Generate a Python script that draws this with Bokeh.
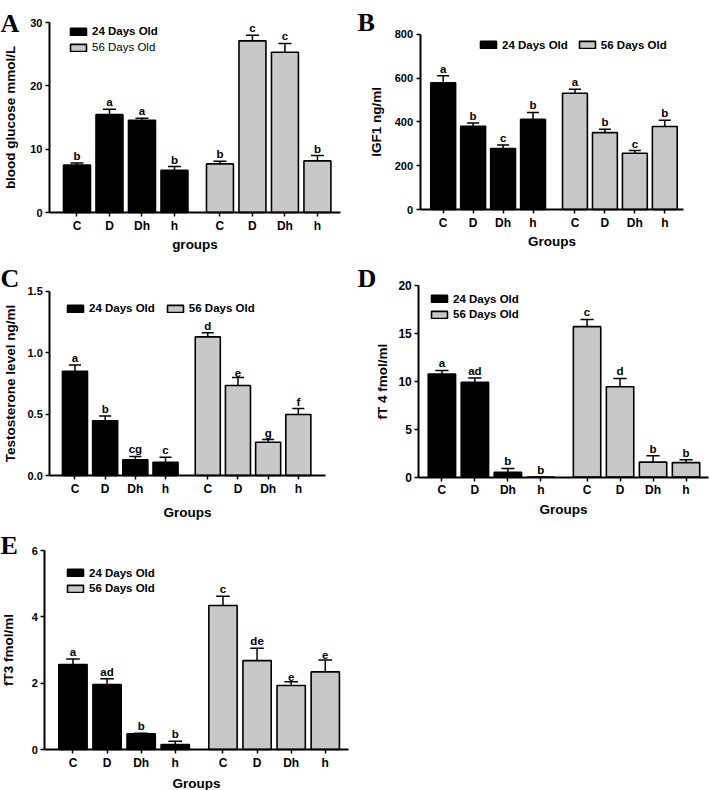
from bokeh.plotting import figure
from bokeh.models import (Range1d, FixedTicker, Legend, LegendItem, Label, PrintfTickFormatter,
                          ColumnDataSource, LinearAxis)
from bokeh.layouts import column, row
from bokeh.embed import file_html
from bokeh.resources import INLINE
from bokeh.core.properties import value

# ---------------- data ----------------
groups = ["C", "D", "Dh", "h"]
series_names = ["24 Days Old", "56 Days Old"]

glucose_24 = [7.5, 15.45, 14.55, 6.67]
glucose_24_err = [0.3, 0.85, 0.35, 0.58]
glucose_24_sig = ["b", "a", "a", "b"]
glucose_56 = [7.67, 27.1, 25.3, 8.15]
glucose_56_err = [0.43, 0.9, 1.4, 0.85]
glucose_56_sig = ["b", "c", "c", "b"]

igf1_24 = [578, 380, 278, 412]
igf1_24_err = [33, 15, 17, 31]
igf1_24_sig = ["a", "b", "c", "b"]
igf1_56 = [531, 351, 257, 379]
igf1_56_err = [18, 16, 12, 29]
igf1_56_sig = ["a", "b", "c", "b"]

testo_24 = [0.849, 0.445, 0.127, 0.108]
testo_24_err = [0.051, 0.04, 0.028, 0.041]
testo_24_sig = ["a", "b", "cg", "c"]
testo_56 = [1.128, 0.732, 0.271, 0.496]
testo_56_err = [0.033, 0.065, 0.022, 0.049]
testo_56_sig = ["d", "e", "g", "f"]

ft4_24 = [10.75, 9.88, 0.49, 0.0]
ft4_24_err = [0.38, 0.45, 0.41, 0.0]
ft4_24_sig = ["a", "ad", "b", "b"]
ft4_56 = [15.70, 9.43, 1.55, 1.50]
ft4_56_err = [0.76, 0.86, 0.68, 0.30]
ft4_56_sig = ["c", "d", "b", "b"]

ft3_24 = [2.56, 1.96, 0.47, 0.15]
ft3_24_err = [0.17, 0.17, 0.02, 0.10]
ft3_24_sig = ["a", "ad", "b", "b"]
ft3_56 = [4.34, 2.68, 1.93, 2.34]
ft3_56_err = [0.28, 0.37, 0.11, 0.36]
ft3_56_sig = ["c", "de", "e", "e"]

# ---------------- styling / layout ----------------
FONT = "Liberation Sans"
SERIF = "Liberation Serif"
GREY = "#c8c8c8"
SLOT = 5
GAP = 7
BAR_W = 4.15
CAP = 1.0


def xpos(g):
    base = SLOT if g == 0 else SLOT * 4 + GAP
    return [base + i * SLOT for i in range(len(groups))]


def make_panel(cfg, d24, e24, s24, d56, e56, s56):
    ox, oy, W, H = cfg["box"]
    L, R, T, Bt = cfg["frame"]
    x0, x1 = cfg["xr"]
    ymax = cfg["ymax"]
    fx = lambda x: x - ox
    fy = lambda y: y - oy
    Lp, Rp, Tp, Bp = fx(L), fx(R), fy(T), fy(Bt)
    kx = (Rp - Lp) / (x1 - x0)
    ky = (Bp - Tp) / ymax
    xr = Range1d(x0 - Lp / kx, x1 + (W - Rp) / kx)
    yr = Range1d(-(H - Bp) / ky, ymax + Tp / ky)

    p = figure(width=W, height=H, title=None, toolbar_location=None, output_backend="svg",
               x_range=xr, y_range=yr, x_axis_type=None, y_axis_type=None, min_border=0)
    p.xgrid.visible = False
    p.ygrid.visible = False
    p.outline_line_color = None
    p.background_fill_color = "white"
    p.border_fill_color = "white"

    renderers = []
    for g, (vals, errs, sig) in enumerate([(d24, e24, s24), (d56, e56, s56)]):
        xs = xpos(g)
        tops = [v + e for v, e in zip(vals, errs)]
        src = ColumnDataSource(dict(x=xs, top=vals, etop=tops, sig=sig,
                                    cl=[x - CAP for x in xs], cr=[x + CAP for x in xs]))
        r = p.vbar(x="x", top="top", width=BAR_W, bottom=0, source=src,
                   fill_color="black" if g == 0 else GREY, line_color="black", line_width=1.6)
        renderers.append(r)
        p.segment(x0="x", y0="top", x1="x", y1="etop", source=src, line_color="black", line_width=1.5)
        p.segment(x0="cl", y0="etop", x1="cr", y1="etop", source=src, line_color="black", line_width=1.5)
        p.text(x="x", y="etop", text="sig", source=src, text_align="center", text_baseline="bottom",
               y_offset=-1, text_font=value(FONT), text_font_style="bold", text_font_size="11.5px",
               text_color="black")

    # axes (fixed inside the full-size frame)
    ticks = xpos(0) + xpos(1)
    xa = LinearAxis(fixed_location=0, bounds=(x0, x1), ticker=FixedTicker(ticks=ticks))
    xa.major_label_overrides = {t: groups[i % 4] for i, t in enumerate(ticks)}
    ya = LinearAxis(fixed_location=x0, bounds=(0, ymax), ticker=FixedTicker(ticks=cfg["yticks"]))
    if cfg.get("fmt"):
        ya.formatter = PrintfTickFormatter(format=cfg["fmt"])
    for ax in (xa, ya):
        ax.axis_line_width = 2
        ax.axis_line_color = "black"
        ax.major_tick_line_width = 1.5
        ax.major_tick_line_color = "black"
        ax.major_tick_out = 4
        ax.major_tick_in = 0
        ax.minor_tick_line_color = None
        ax.major_label_text_font = FONT
        ax.major_label_text_font_style = "bold"
        ax.major_label_text_color = "black"
        ax.axis_label_text_font = FONT
        ax.axis_label_text_font_style = "bold"
        ax.axis_label_text_font_size = "13.5px"
        ax.axis_label_text_color = "black"
    xa.major_label_text_font_size = "12px"
    ya.major_label_text_font_size = cfg.get("ytick_size", "11px")
    xa.major_label_standoff = 2
    ya.major_label_standoff = 3
    xa.axis_label = cfg["xlabel"]
    ya.axis_label = cfg["ylabel"]
    xa.axis_label_standoff = cfg["x_als"]
    ya.axis_label_standoff = cfg["y_als"]
    p.add_layout(xa, "below")
    p.add_layout(ya, "left")

    # panel letter
    lx, lb = cfg["letter_pos"]
    p.add_layout(Label(x=fx(lx), y=H - fy(lb), x_units="screen", y_units="screen",
                       text=cfg["letter"], text_font=SERIF, text_font_style="bold",
                       text_font_size="26px", text_color="black",
                       text_align="left", text_baseline="alphabetic"))

    # legends
    common = dict(padding=0, margin=0, border_line_color=None, background_fill_alpha=0,
                  label_text_font=FONT, label_text_font_size="11.5px", label_text_color="black",
                  glyph_width=20, glyph_height=9, label_height=12, label_standoff=4)
    if cfg["legend"] == "h":
        bx, cy = cfg["legend_pos"]
        items = [LegendItem(label=series_names[i], renderers=[renderers[i]]) for i in range(2)]
        leg = Legend(items=items, orientation="horizontal", spacing=cfg["legend_sp"],
                     location=(fx(bx), H - fy(cy) - 6),
                     label_text_font_style="bold", **common)
        p.add_layout(leg)
    else:
        for i, (bx, cy, style) in enumerate(cfg["legend_pos"]):
            leg = Legend(items=[LegendItem(label=series_names[i], renderers=[renderers[i]])],
                         location=(fx(bx), H - fy(cy) - 6),
                         label_text_font_style=style, **common)
            p.add_layout(leg)
    return p


cfgA = dict(box=(0, 0, 350, 260), frame=(49, 340, 22, 212), ymax=30, yticks=[0, 10, 20, 30],
            xr=(0.77, 45.55), ylabel="blood glucose mmol/L", xlabel="groups", y_als=9, x_als=1,
            letter="A", letter_pos=(0, 23), legend="v",
            legend_pos=[(68, 31, "bold"), (68, 47, "normal")])
cfgB = dict(box=(350, 0, 359, 260), frame=(419.5, 683.3, 33.8, 209), ymax=800,
            yticks=[0, 200, 400, 600, 800], xr=(1.13, 45.17), ylabel="IGF1 ng/ml", xlabel="Groups",
            y_als=8, x_als=1, letter="B", letter_pos=(357, 22), legend="h",
            legend_pos=(478, 44.5), legend_sp=9)
cfgC = dict(box=(0, 260, 350, 270), frame=(49.3, 325, 290.7, 475), ymax=1.5,
            yticks=[0, 0.5, 1.0, 1.5], fmt="%.1f", xr=(0.83, 46.5), ylabel="Testosterone level ng/ml",
            xlabel="Groups", y_als=6, x_als=6, letter="C", letter_pos=(0, 278), legend="h",
            legend_pos=(65, 308), legend_sp=10)
cfgD = dict(box=(350, 260, 359, 270), frame=(418.3, 708.3, 285, 476.5), ymax=20,
            yticks=[0, 5, 10, 15, 20], xr=(1.5, 45.45), ylabel="fT 4 fmol/ml", xlabel="Groups",
            y_als=5, x_als=1, letter="D", letter_pos=(357, 278), legend="v", ytick_size="12px",
            legend_pos=[(429, 298.5, "bold"), (429, 314, "bold")])
cfgE = dict(box=(0, 530, 350, 260), frame=(44.3, 348.3, 550, 749), ymax=6, yticks=[0, 2, 4, 6],
            xr=(0.87, 45.45), ylabel="fT3 fmol/ml", xlabel="Groups", y_als=12, x_als=3,
            letter="E", letter_pos=(0, 545), legend="v",
            legend_pos=[(65, 572.5, "bold"), (65, 588, "bold")])

pA = make_panel(cfgA, glucose_24, glucose_24_err, glucose_24_sig, glucose_56, glucose_56_err, glucose_56_sig)
pB = make_panel(cfgB, igf1_24, igf1_24_err, igf1_24_sig, igf1_56, igf1_56_err, igf1_56_sig)
pC = make_panel(cfgC, testo_24, testo_24_err, testo_24_sig, testo_56, testo_56_err, testo_56_sig)
pD = make_panel(cfgD, ft4_24, ft4_24_err, ft4_24_sig, ft4_56, ft4_56_err, ft4_56_sig)
pE = make_panel(cfgE, ft3_24, ft3_24_err, ft3_24_sig, ft3_56, ft3_56_err, ft3_56_sig)

layout = column(row(pA, pB, spacing=0), row(pC, pD, spacing=0), pE, spacing=0)

with open("out.html", "w") as f:
    f.write(file_html(layout, INLINE))
